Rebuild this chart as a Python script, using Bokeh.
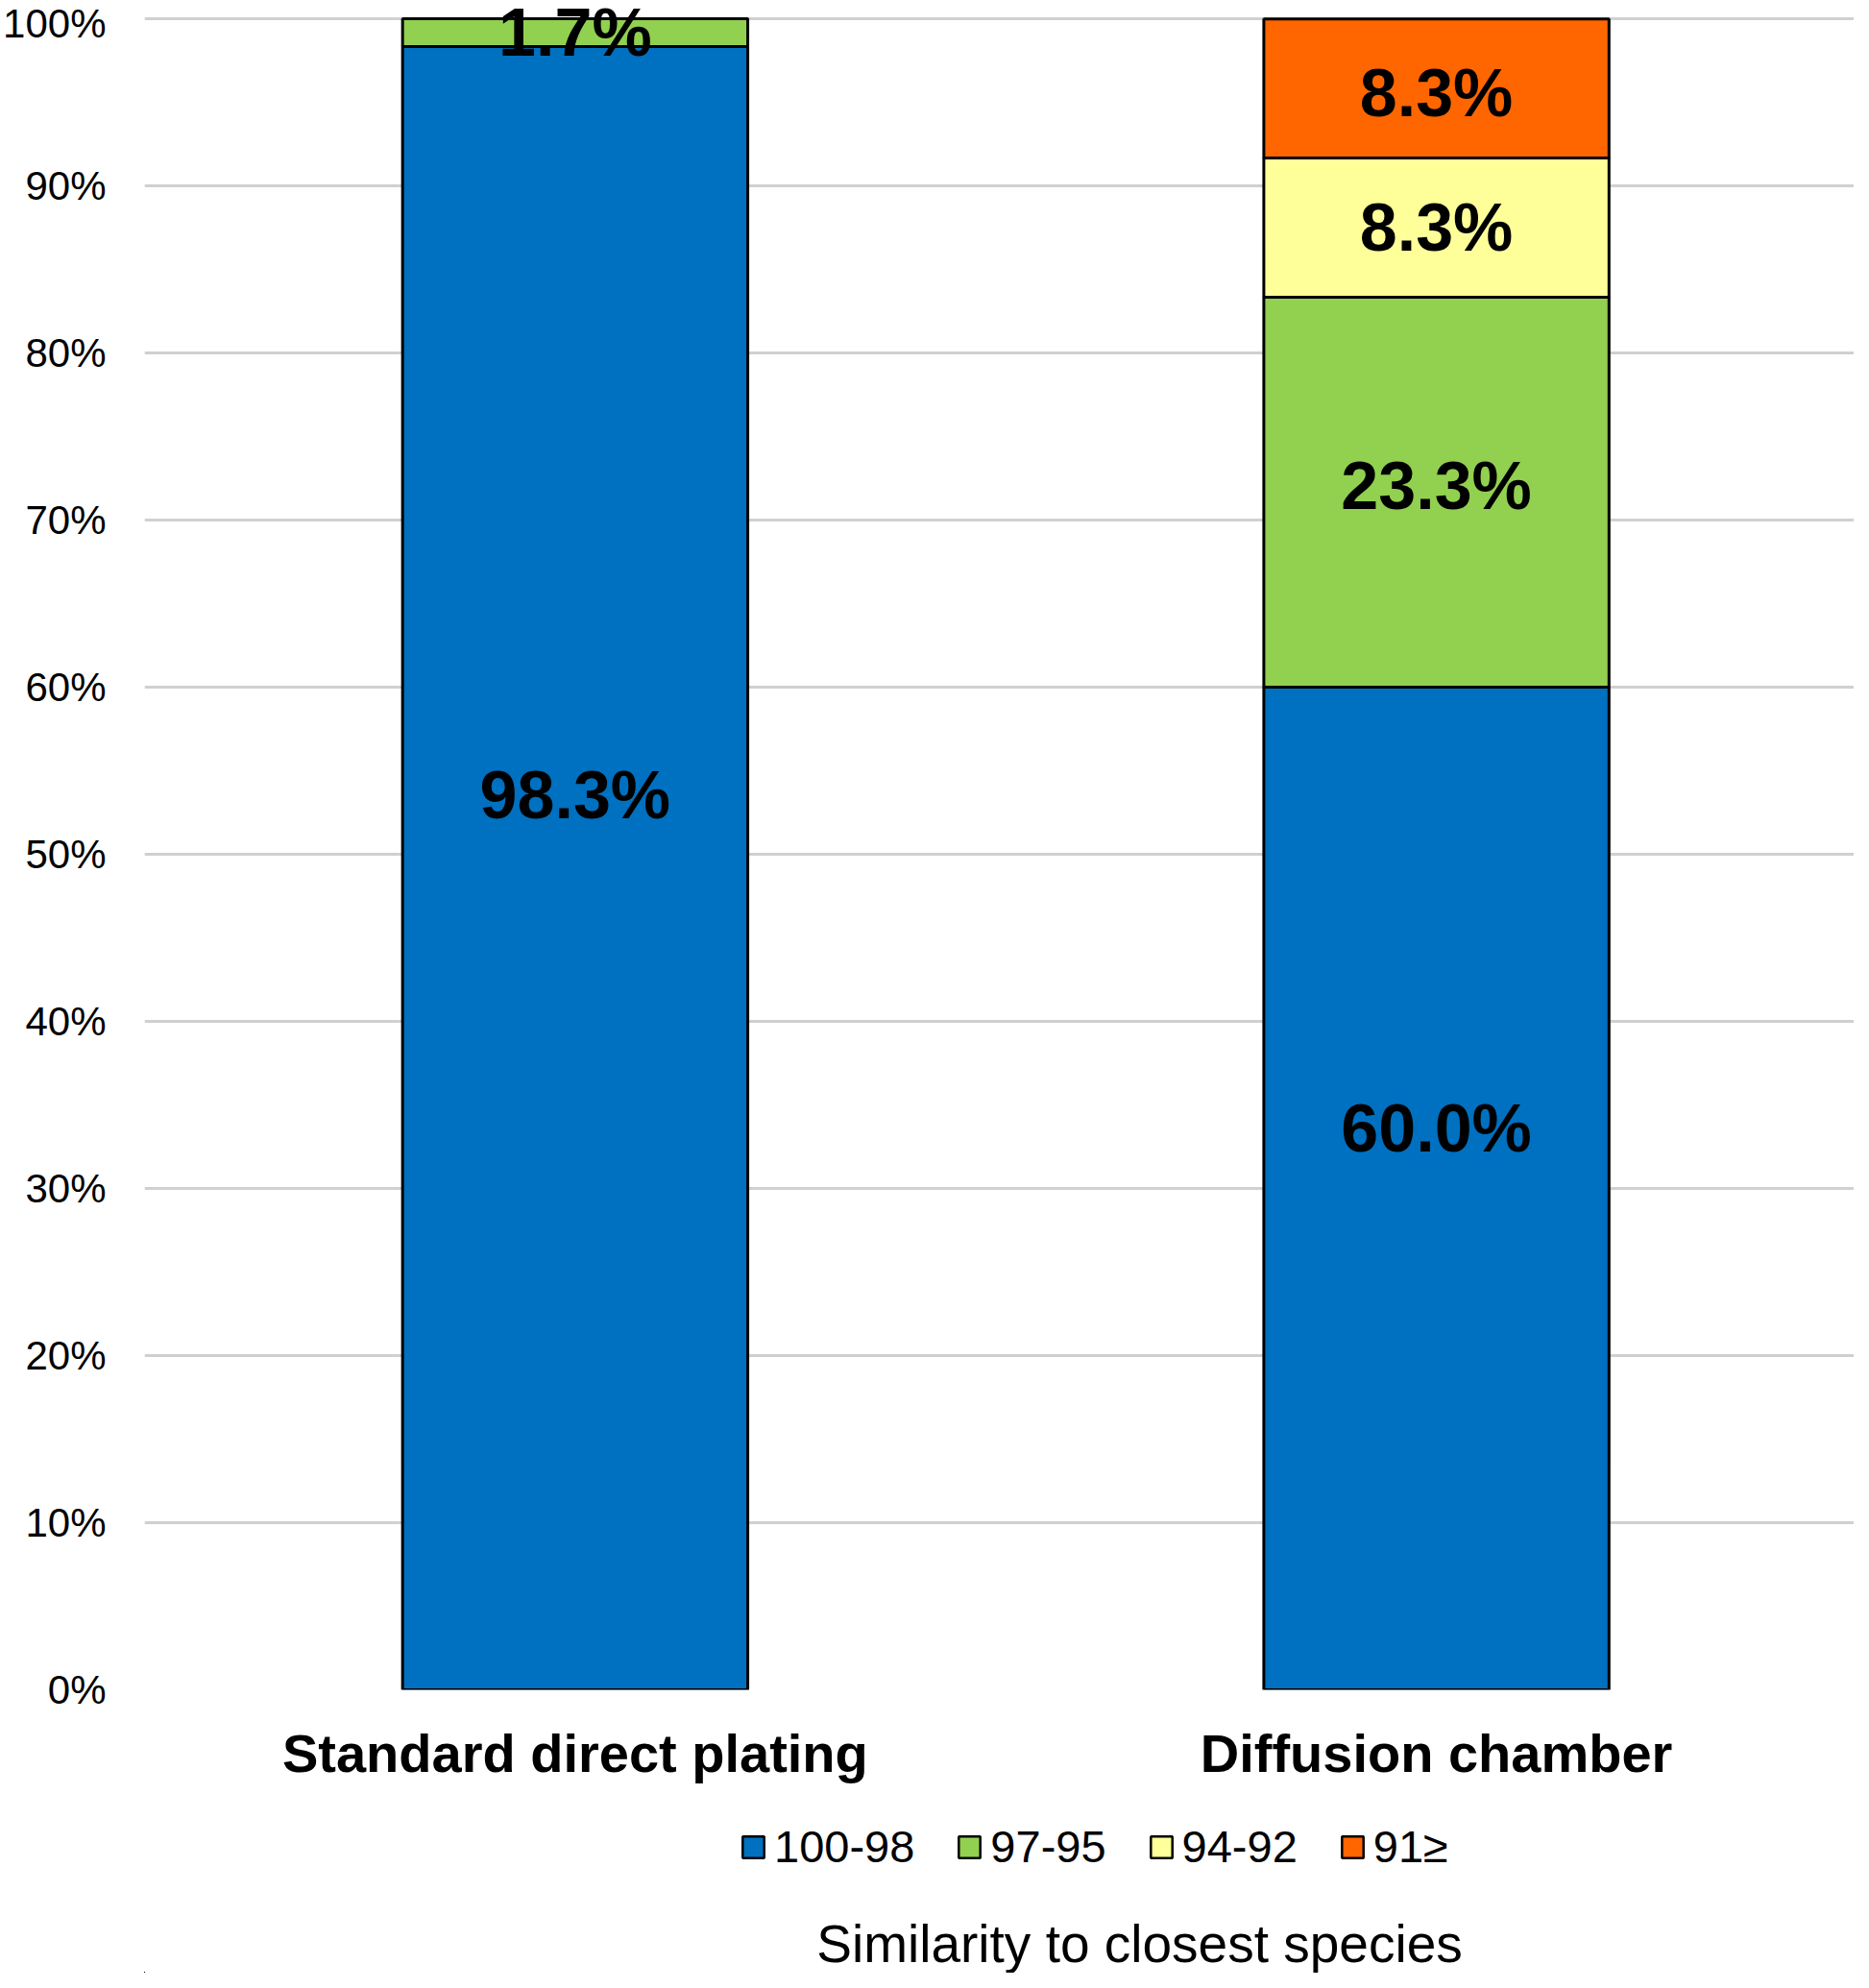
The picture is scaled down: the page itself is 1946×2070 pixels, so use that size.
from bokeh.plotting import figure
from bokeh.layouts import column
from bokeh.models import (ColumnDataSource, Range1d, FixedTicker,
                          PrintfTickFormatter, Legend, LegendItem, Label)
from bokeh.core.properties import value
from bokeh.embed import file_html
from bokeh.resources import INLINE

# ---------------- data ----------------
categories = ["Standard direct plating", "Diffusion chamber"]
series_names = ["100-98", "97-95", "94-92", "91\u2265"]
pct_100_98 = [98.33, 60.00]
pct_97_95 = [1.67, 23.33]
pct_94_92 = [0.0, 8.33]
pct_91 = [0.0, 8.33]
y_ticks = [0, 10, 20, 30, 40, 50, 60, 70, 80, 90, 100]
axis_title = "Similarity to closest species"

# ---------------- style ----------------
colors = ["#0070C0", "#92D050", "#FFFF99", "#FF6600"]
FONT = "Liberation Sans"
# pixel nudges of the value labels (order: non-zero segments, bottom to top, per category)
label_nudge = [-76, 0, -62, -7, 0, 5]

W = 1930
H_MAIN = 1864
H_FOOT = 190

keys = ["s0", "s1", "s2", "s3"]
series = [pct_100_98, pct_97_95, pct_94_92, pct_91]
xpos = [i + 0.5 for i in range(len(categories))]
src = ColumnDataSource(dict(x=xpos, **{k: s for k, s in zip(keys, series)}))

p = figure(width=W, height=H_MAIN,
           x_range=Range1d(0, 1.985),
           y_range=Range1d(0, 101.09),
           output_backend="svg", toolbar_location=None,
           min_border_left=147, min_border_right=0,
           min_border_top=0, min_border_bottom=105)
p.outline_line_color = None
p.background_fill_color = "white"
p.border_fill_color = "white"

rs = p.vbar_stack(keys, x="x", width=0.4008, source=src,
                  fill_color=colors, line_color="black", line_width=3)

# value labels
lx, ly, lt = [], [], []
for ci, xc in enumerate(xpos):
    base = 0.0
    for s in series:
        v = s[ci]
        if v > 0:
            lx.append(xc)
            ly.append(base + v / 2.0)
            lt.append(f"{v:.1f}%")
        base += v
lsrc = ColumnDataSource(dict(x=lx, y=ly, t=lt, dy=label_nudge))
p.text(x="x", y="y", text="t", y_offset="dy", source=lsrc,
       text_align="center", text_baseline="middle",
       text_font=value(FONT), text_font_style="bold",
       text_font_size="70px", text_color="black")

# axes
p.yaxis.ticker = FixedTicker(ticks=y_ticks)
p.yaxis.formatter = PrintfTickFormatter(format="%d%%")
p.yaxis.axis_line_color = None
p.yaxis.major_tick_line_color = None
p.yaxis.minor_tick_line_color = None
p.yaxis.major_tick_out = 0
p.yaxis.major_label_standoff = 40
p.yaxis.major_label_text_font = FONT
p.yaxis.major_label_text_font_size = "42px"
p.yaxis.major_label_text_color = "black"

p.xaxis.ticker = FixedTicker(ticks=xpos)
p.xaxis.major_label_overrides = {xc: c for xc, c in zip(xpos, categories)}
p.xaxis.axis_line_color = None
p.xaxis.major_tick_line_color = None
p.xaxis.minor_tick_line_color = None
p.xaxis.major_tick_out = 0
p.xaxis.major_label_standoff = 34
p.xaxis.major_label_text_font = FONT
p.xaxis.major_label_text_font_style = "bold"
p.xaxis.major_label_text_font_size = "56px"
p.xaxis.major_label_text_color = "black"

p.xgrid.grid_line_color = None
p.ygrid.ticker = FixedTicker(ticks=y_ticks)
p.ygrid.grid_line_color = "#d0d0d0"
p.ygrid.grid_line_width = 3

# ---------------- footer: legend + axis title ----------------
# the footer's ranges lie away from the bar data in both directions,
# so its legend proxy bars stay out of view
f = figure(width=W, height=H_FOOT, x_range=Range1d(5, 6), y_range=Range1d(500, 501),
           output_backend="svg", toolbar_location=None,
           min_border_left=0, min_border_right=0,
           min_border_top=0, min_border_bottom=0)
f.axis.visible = False
f.grid.visible = False
f.outline_line_color = None
f.background_fill_color = "white"
f.border_fill_color = "white"

proxies = [f.vbar(x="x", top=k, width=0.4, source=src, fill_color=c,
                  line_color="black", line_width=2.5)
           for k, c in zip(keys, colors)]
legend = Legend(items=[LegendItem(label=n, renderers=[r]) for n, r in zip(series_names, proxies)],
                orientation="horizontal", location=(620, 104),
                glyph_width=28, glyph_height=28, label_standoff=8, spacing=43,
                label_text_font=FONT, label_text_font_size="47px",
                label_text_color="black",
                border_line_color=None, background_fill_alpha=0,
                padding=0, margin=0)
f.add_layout(legend, "center")

f.add_layout(Label(x=1036, y=31, x_units="screen", y_units="screen",
                   text=axis_title, text_align="center", text_baseline="middle",
                   text_font=FONT, text_font_size="55px", text_color="black"))

layout = column(p, f, spacing=0)
open("out.html", "w").write(file_html(layout, INLINE))
